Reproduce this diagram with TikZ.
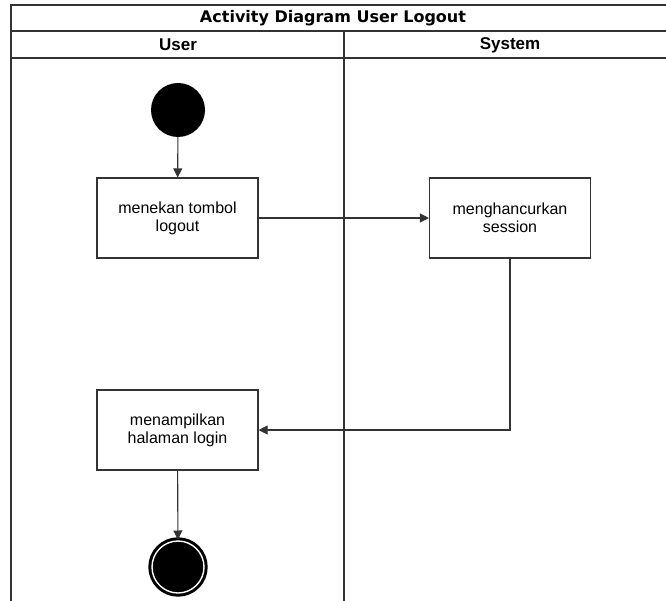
\documentclass[tikz,border=0pt]{standalone}
\usepackage{fontspec}
\setmainfont{Liberation Sans}
\newfontfamily\titlefont{DejaVu Sans}
\usetikzlibrary{arrows.meta}
\begin{document}
\begin{tikzpicture}[x=1pt,y=-1pt,
  lane/.style={draw=black!80, line width=1.1pt},
  action/.style={draw=black!80, line width=1.1pt, minimum width=161pt, minimum height=80pt,
    align=center, font=\fontsize{16}{18}\selectfont, fill=white},
  flow/.style={draw=black!80, line width=1.1pt, -{Triangle[width=9pt,length=9pt,sep=0pt]}},
  header/.style={font=\bfseries\fontsize{17}{19}\selectfont},
  titletext/.style={font=\titlefont\bfseries\fontsize{16}{18}\selectfont},
  startnode/.style={circle, fill=black, minimum size=54pt, inner sep=0pt},
  endnode/.style={circle, fill=black, draw=black, line width=3pt, minimum size=52pt, inner sep=0pt,
    double=white, double distance=1.4pt}
]
\useasboundingbox (0,0) rectangle (666,601);
% swimlane frame
\draw[lane] (666,5) -- (11,5) -- (11,601);
\draw[lane] (11,31) -- (666,31);
\draw[lane] (11,58) -- (666,58);
\draw[lane] (344,31) -- (344,601);
\node[titletext] (title) at (333,18) {Activity Diagram User Logout};
\node[header] (laneuser) at (178,45) {User};
\node[header] (lanesystem) at (510,45) {System};
% activities
\node[startnode] (start) at (178,110) {};
\node[action] (press) at (177.5,218) {menekan tombol\\logout};
\node[action] (destroy) at (510,218) {menghancurkan\\session};
\node[action] (show) at (177.5,430) {menampilkan\\halaman login};
\node[endnode] (end) at (178,567) {};
% flows
\draw[flow] (start) -- (press);
\draw[flow] (press) -- (destroy);
\draw[flow] (destroy.south) |- (show.east);
\draw[flow] (show) -- (end);
\end{tikzpicture}
\end{document}
